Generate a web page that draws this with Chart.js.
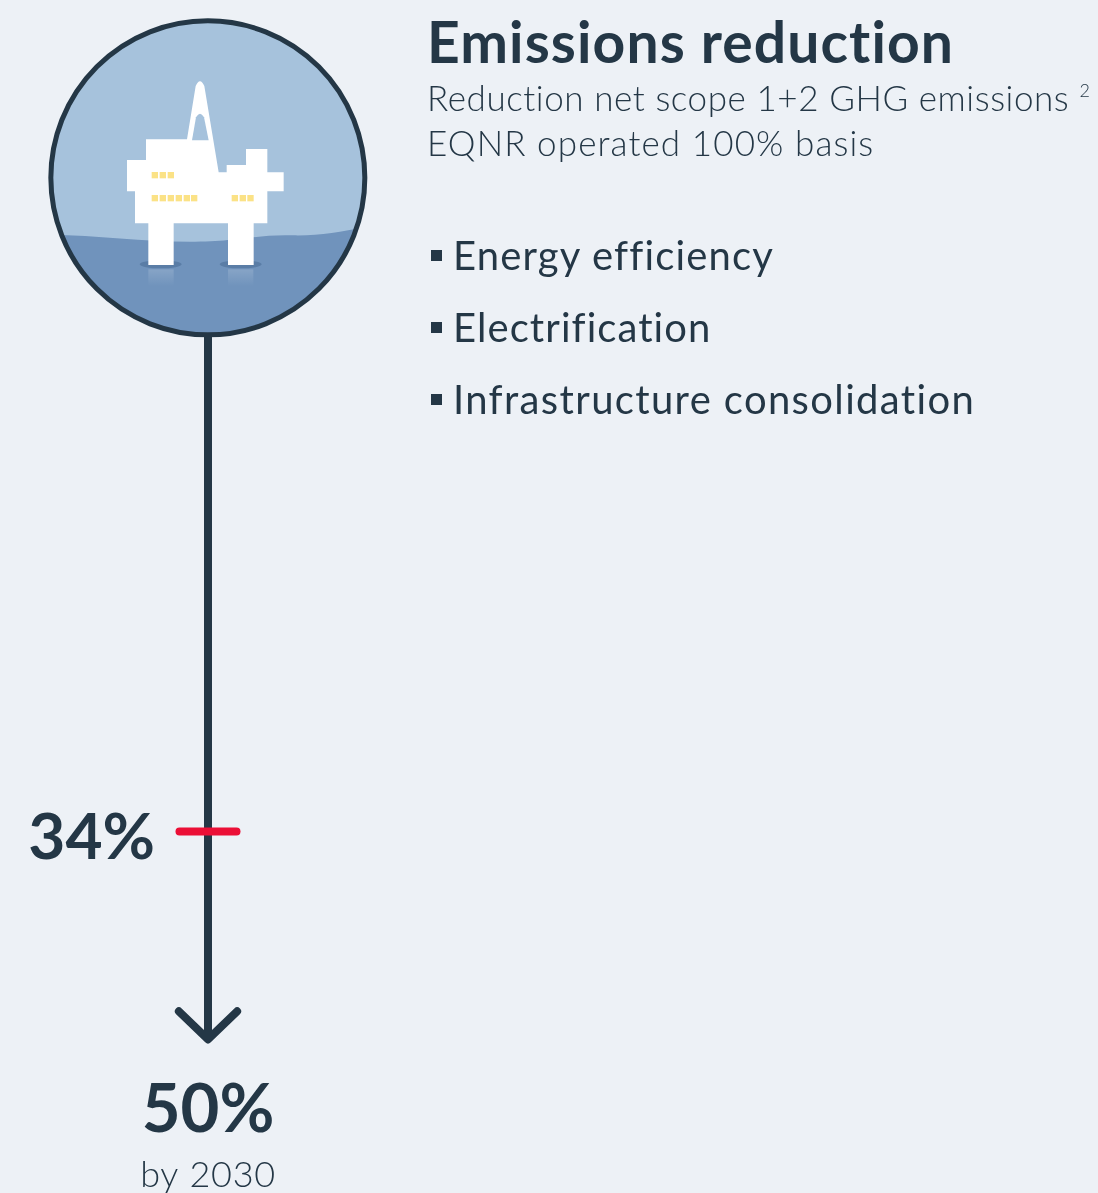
<!DOCTYPE html>
<html>
<head>
<meta charset="utf-8">
<title>Emissions reduction</title>
<style>
  html, body { margin: 0; padding: 0; background: #edf1f6; overflow: hidden; }
  body { position: relative; width: 1098px; height: 1193px; color: #243746; font-family: Lato, sans-serif; }
  #chart, #icon { position: absolute; left: 0; top: 0; }
  #icon { left: 40px; top: 10px; }
  .t { position: absolute; white-space: nowrap; line-height: 1; }
  .title { left: 427px; top: 13px; font-size: 57px; font-weight: 700; letter-spacing: 1.1px; }
  .sub { left: 427px; font-size: 35px; font-weight: 300; }
  .sub sup { font-size: 18px; vertical-align: 14px; line-height: 0; }
  .item { left: 453px; font-size: 40px; font-weight: 400; }
  .sq { position: absolute; left: 431px; width: 11px; height: 11px; background: #243746; }
</style>
</head>
<body>
<svg id="icon" width="340" height="340" viewBox="0 0 1020 1020">
  <defs>
    <clipPath id="disc"><circle cx="503.5" cy="503.5" r="471"/></clipPath>
    <linearGradient id="fade" x1="0" y1="0" x2="0" y2="1">
      <stop offset="0" stop-color="#fff" stop-opacity="0.16"/>
      <stop offset="1" stop-color="#fff" stop-opacity="0"/>
    </linearGradient>
  </defs>
  <g clip-path="url(#disc)">
    <rect width="1020" height="1020" fill="#a6c2dc"/>
    <path d="M0 675 C150 672 300 695 450 695 C600 695 650 672 760 676 C850 678 930 660 1020 642 V1020 H0 Z" fill="#7093bc"/>
    <ellipse cx="362" cy="763" rx="63" ry="12" fill="#5a7da6"/>
    <ellipse cx="602" cy="763" rx="63" ry="12" fill="#5a7da6"/>
    <rect x="325" y="778" width="76" height="50" fill="url(#fade)"/>
    <rect x="564" y="778" width="76" height="50" fill="url(#fade)"/>
    <path fill="#fff" d="M318 388 H441 L467 228 Q480 200 493 228 L536 487 H560 V465 H618 V417 H682 V487 H731 V544 H682 V640 H641 V765 H564 V640 H401 V765 H325 V640 H285 V544 H261 V450 H318 Z"/>
    <path fill="#a6c2dc" d="M456 391 L468 322 Q480 300 492 322 L506 391 Z"/>
    <g fill="#fbe286">
      <rect x="335" y="486" width="19" height="19"/><rect x="359" y="486" width="19" height="19"/><rect x="383" y="486" width="19" height="19"/>
      <rect x="335" y="555" width="19" height="19"/><rect x="359" y="555" width="19" height="19"/><rect x="383" y="555" width="19" height="19"/>
      <rect x="407" y="555" width="19" height="19"/><rect x="431" y="555" width="19" height="19"/><rect x="453" y="555" width="19" height="19"/>
      <rect x="575" y="555" width="19" height="19"/><rect x="599" y="555" width="19" height="19"/><rect x="622" y="555" width="19" height="19"/>
    </g>
  </g>
  <circle cx="503.5" cy="503.5" r="471" fill="none" stroke="#243746" stroke-width="15"/>
</svg>
<canvas id="chart" width="1098" height="1193"></canvas>

<div class="t title">Emissions reduction</div>
<div class="t sub" style="top:80px;letter-spacing:.57px">Reduction net scope 1+2 GHG emissions <sup>2</sup></div>
<div class="t sub" style="top:125px;letter-spacing:1.1px">EQNR operated 100% basis</div>
<div class="sq" style="top:250px"></div>
<div class="t item" style="top:235px;letter-spacing:1.17px">Energy efficiency</div>
<div class="sq" style="top:322px"></div>
<div class="t item" style="top:307px;letter-spacing:1.07px">Electrification</div>
<div class="sq" style="top:394px"></div>
<div class="t item" style="top:379px;letter-spacing:1.36px">Infrastructure consolidation</div>

<script src="https://cdn.jsdelivr.net/npm/chart.js@4/dist/chart.umd.min.js"></script>
<script>
// values, % reduction
const axisValues = [0, 48.3];
const currentValue = 34;
const currentLabel = "34%";
const targetLabel = "50%";
const targetNote = "by 2030";

const NAVY = "#243746";
const RED = "#eb0f36";
const tickHalf = 0.137;
const headHalf = 0.14;
const headBack = 1.93;

const tip = axisValues[1];

// labels hang off the scale positions
const labelPlugin = {
  id: "labels",
  afterDraw(chart) {
    const { ctx, scales } = chart;
    const cx = scales.x.getPixelForValue(0);
    const y34 = scales.y.getPixelForValue(currentValue);
    const yTip = scales.y.getPixelForValue(tip);
    ctx.save();
    ctx.fillStyle = NAVY;
    ctx.textBaseline = "alphabetic";
    ctx.font = "700 64px Lato, sans-serif";
    ctx.textAlign = "right";
    ctx.fillText(currentLabel, cx - 53, y34 + 28);
    ctx.textAlign = "center";
    ctx.font = "700 67px Lato, sans-serif";
    ctx.fillText(targetLabel, cx, yTip + 93);
    ctx.font = "300 36px Lato, sans-serif";
    ctx.letterSpacing = "0.7px";
    ctx.fillText(targetNote, cx, yTip + 148);
    ctx.restore();
  },
};

new Chart(document.getElementById("chart"), {
  type: "line",
  data: {
    datasets: [
      {
        // red marker for today's level
        data: [{ x: -tickHalf, y: currentValue }, { x: tickHalf, y: currentValue }],
        borderColor: RED,
        borderWidth: 8,
        borderCapStyle: "round",
        pointRadius: 0,
        order: 1,
      },
      {
        data: axisValues.map((v) => ({ x: 0, y: v })),
        borderColor: NAVY,
        borderWidth: 8,
        pointRadius: 0,
        order: 2,
      },
      {
        // arrow head
        data: [
          { x: -headHalf, y: tip - headBack },
          { x: 0, y: tip },
          { x: headHalf, y: tip - headBack },
        ],
        borderColor: NAVY,
        borderWidth: 8,
        borderCapStyle: "round",
        borderJoinStyle: "round",
        pointRadius: 0,
        order: 3,
      },
    ],
  },
  options: {
    responsive: false,
    animation: false,
    layout: { padding: { left: 0, right: 682, top: 337, bottom: 12.5 } },
    plugins: { legend: { display: false }, tooltip: { enabled: false } },
    scales: {
      x: { type: "linear", min: -1, max: 1, display: false },
      y: { type: "linear", min: 0, max: 58, reverse: true, display: false },
    },
  },
  plugins: [labelPlugin],
});
</script>
</body>
</html>
